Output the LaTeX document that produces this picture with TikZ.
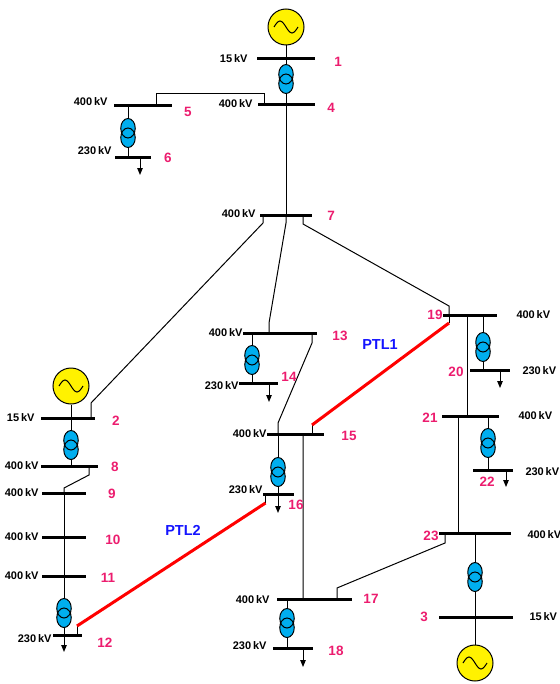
\documentclass[tikz,border=0pt]{standalone}
\usepackage{fontspec}
\setmainfont{Liberation Sans}
\usepackage{tikz}
\usetikzlibrary{arrows.meta,calc,positioning}
\usepackage{xcolor}
\definecolor{genyellow}{RGB}{255,242,0}
\definecolor{xfmrblue}{RGB}{0,174,239}
\definecolor{busnum}{RGB}{236,28,110}
\definecolor{ptlblue}{RGB}{20,20,255}

\tikzset{
  bus/.style={fill=black, inner sep=0pt, minimum height=3bp, minimum width=#1},
  gen/.style={circle, draw, fill=genyellow, minimum size=36bp, inner sep=0pt,
    path picture={\draw[line width=1bp] ([xshift=-12bp]path picture bounding box.center)
      sin ++(6bp,6bp) cos ++(6bp,-6bp) sin ++(6bp,-6bp) cos ++(6bp,6bp);}},
  xfmr/.style={inner sep=0pt, minimum width=18bp, minimum height=32bp,
    path picture={
      \coordinate (xc) at (path picture bounding box.center);
      \fill[xfmrblue] ([yshift=4.75bp]xc) ellipse [x radius=7.25bp, y radius=9.75bp]
        ([yshift=-4.75bp]xc) ellipse [x radius=7.25bp, y radius=9.75bp];
      \draw[line width=1bp] ([yshift=4.75bp]xc) ellipse [x radius=7.25bp, y radius=9.75bp]
        ([yshift=-4.75bp]xc) ellipse [x radius=7.25bp, y radius=9.75bp];}},
  kv/.style={font=\bfseries\fontsize{11bp}{12bp}\selectfont, inner sep=0pt},
  num/.style={font=\bfseries\fontsize{13.5bp}{15bp}\selectfont, text=busnum, inner sep=0pt},
  ptl/.style={red, line width=3bp},
  ptltext/.style={font=\bfseries\fontsize{14.5bp}{16bp}\selectfont, text=ptlblue, inner sep=0pt},
  load/.style={-{Triangle[length=7bp,width=5.5bp]}},
}

\begin{document}
\begin{tikzpicture}[x=1bp, y=-1bp, line width=1bp]
\useasboundingbox (0,0) rectangle (560,684);

% busbars
\node[bus=58bp] (b1) at (286,59) {};
\node[bus=57bp] (b4) at (286,105) {};
\node[bus=58bp] (b5) at (143,106) {};
\node[bus=36bp] (b6) at (133,157) {};
\node[bus=52bp] (b7) at (286,215) {};
\node[bus=54bp] (b2) at (68,418) {};
\node[bus=57bp] (b8) at (69.5,466) {};
\node[bus=44bp] (b9) at (64,493) {};
\node[bus=44bp] (b10) at (64,537) {};
\node[bus=44bp] (b11) at (64,576) {};
\node[bus=29bp] (b12) at (67.5,635) {};
\node[bus=74bp] (b13) at (280,333) {};
\node[bus=39bp] (b14) at (258.5,383) {};
\node[bus=57bp] (b15) at (295.5,434) {};
\node[bus=31bp] (b16) at (278,494) {};
\node[bus=75bp] (b17) at (314.5,599) {};
\node[bus=40bp] (b18) at (293,648) {};
\node[bus=54bp] (b19) at (470,315) {};
\node[bus=40bp] (b20) at (490,370) {};
\node[bus=57bp] (b21) at (470,416) {};
\node[bus=40bp] (b22) at (493,470) {};
\node[bus=72bp] (b23) at (475,533) {};
\node[bus=74bp] (b3) at (476,617) {};

% generators
\node[gen] (g1) at (286,27) {};
\node[gen] (g2) at (71,386) {};
\node[gen] (g3) at (475,663) {};

% lines
\draw (g1) -- (b4.center);
\draw (b4.center) -- (b7.center);
\draw ($(b4)+(-22,0)$) -- ++(0,-11) -| ($(b5)+(13,0)$);
\draw ($(b5)+(-15,0)$) -- ($(b6)+(-5,0)$);
\draw[load] ($(b6)+(7,0)$) -- ++(0,18);
\draw ($(b7)+(-23,0)$) -- ++(0,8) -- ($(b2)+(23,-15)$) -- ($(b2)+(23,0)$);
\draw (b7.center) -- ++(0,8) -- ($(b13)+(-11,-10)$) -- ($(b13)+(-11,0)$);
\draw ($(b7)+(17,0)$) -- ++(0,9) -- ($(b19)+(-21,-9)$) -- ($(b19)+(-21,0)$);
\draw (g2) -- (g2 |- b8);
\draw ($(b8)+(19.5,0)$) -- ++(0,9) -- ($(b9)+(0,-5)$) -- (b9.center);
\draw (b9.center) -- (b9 |- b12);
\draw[load] (b9 |- b12) -- ++(0,17);
\draw ($(b13)+(-28,0)$) -- ($(b14)+(-6.5,0)$);
\draw[load] ($(b14)+(10.5,0)$) -- ++(0,19);
\draw ($(b13)+(32,0)$) -- ++(0,10) -- ($(b15)+(-17.5,-11)$) -- ($(b15)+(-17.5,0)$);
\draw ($(b15)+(-17.5,0)$) -- (b16.center);
\draw[load] (b16.center) -- ++(0,19);
\draw ($(b15)+(7.5,0)$) -- ($(b17)+(-11.5,0)$);
\draw ($(b17)+(-27.5,0)$) -- ($(b18)+(-6,0)$);
\draw[load] ($(b18)+(10,0)$) -- ++(0,19);
\draw ($(b17)+(22.5,0)$) -- ++(0,-11) -- ($(b23)+(-30,10)$) -- ($(b23)+(-30,0)$);
\draw ($(b19)+(-3,0)$) -- ($(b21)+(-3,0)$);
\draw ($(b19)+(13,0)$) -- ($(b20)+(-7,0)$);
\draw[load] ($(b20)+(10,0)$) -- ++(0,18);
\draw ($(b21)+(-12,0)$) -- ($(b23)+(-17,0)$);
\draw ($(b21)+(18,0)$) -- ($(b22)+(-5,0)$);
\draw[load] ($(b22)+(13,0)$) -- ++(0,17);
\draw (b23.center) -- (g3);

% PTL1 and PTL2
\draw ($(b12)+(9.5,0)$) -- ++(0,-9) coordinate (p12);
\draw ($(b16)+(-12.5,0)$) -- ++(0,9) coordinate (p16);
\draw[ptl] (p12) -- (p16);
\draw ($(b15)+(16.5,0)$) -- ++(0,-9) coordinate (p15);
\draw ($(b19)+(-21,0)$) -- ++(0,8) coordinate (p19);
\draw[ptl] (p15) -- (p19);
\node[ptltext] (ptl1) at (380,345) {PTL1};
\node[ptltext] (ptl2) at (183,530) {PTL2};

% transformers
\foreach \n/\x/\y in {14/286/79, 56/128/133, 28/71/445, 1112/64/613, 1314/252/360,
    1516/278/472, 1718/287/623, 1920/483/347, 2122/488/443, 233/475/577}
  \node[xfmr] (t\n) at (\x,\y) {};

% voltages
\foreach \n/\x/\y/\volt in {1/248/59/15, 4/253/104/400, 5/108/102/400, 6/112/151/230,
    7/256/214/400, 2/35/418/15, 8/39/466/400, 9/39/493/400, 10/39/537/400,
    11/39/576/400, 12/52/639/230, 13/243/333/400, 14/239/386/230, 15/267/434/400,
    16/263/490/230, 17/270/600/400, 18/267/646/230}
  \node[kv, anchor=east] (v\n) at (\x,\y) {\volt\,kV};
\foreach \n/\x/\y/\volt in {19/516/315/400, 20/522/371/230, 21/518/416/400,
    22/525/472/230, 23/527/535/400, 3/529/617/15}
  \node[kv, anchor=west] (v\n) at (\x,\y) {\volt\,kV};

% bus numbers
\foreach \n/\x/\y in {1/338/62, 4/331/108, 5/188/112, 6/168/158, 7/331/216,
    2/116/421, 8/115/467, 9/112/494, 10/113/540, 11/108/578, 12/105/643,
    13/340/336, 14/289/377, 15/349/436, 16/296/505, 17/371/599, 18/336/651,
    19/435/315, 20/456/372, 21/430/418, 22/487/482, 23/431/536, 3/424/617}
  \node[num] (n\n) at (\x,\y) {\n};
\end{tikzpicture}
\end{document}
